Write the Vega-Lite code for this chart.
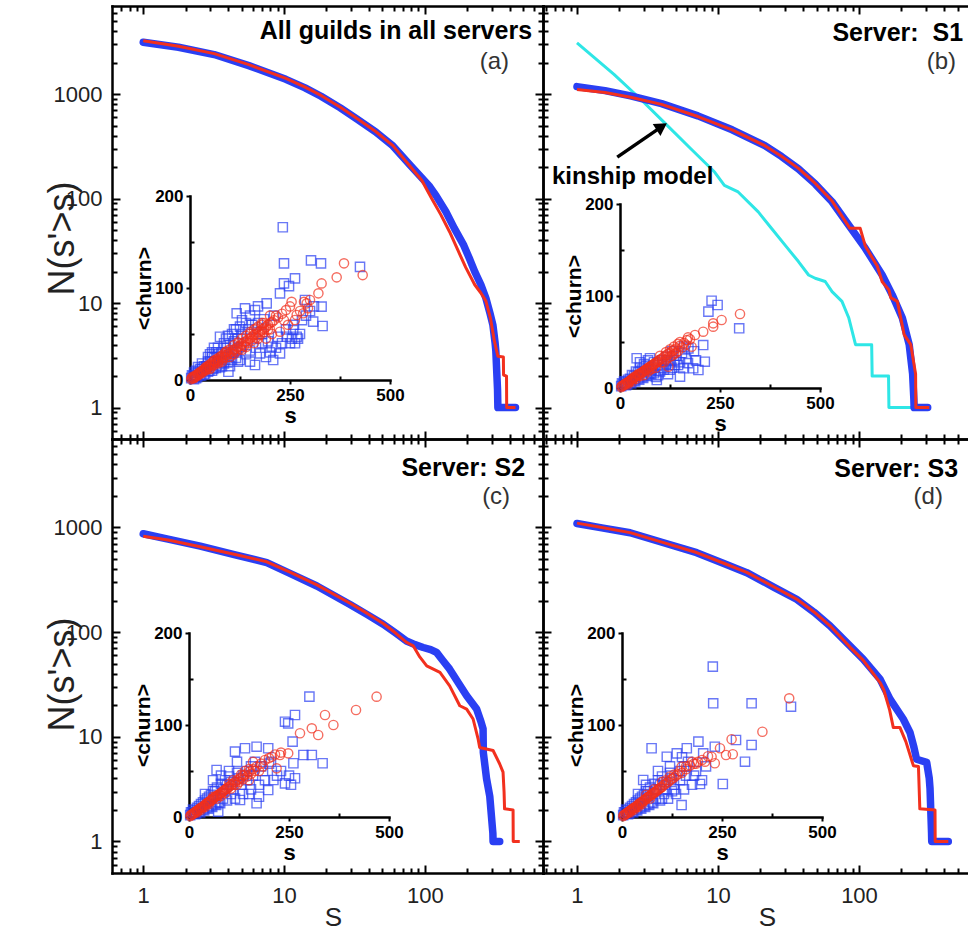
{
"$schema":"https://vega.github.io/schema/vega-lite/v6.json",
"width":856,"height":867,
"autosize":{"type":"none"},
"padding":{"left":112,"top":6,"right":0,"bottom":60},
"background":"white",
"config":{"view":{"stroke":null},"font":"Liberation Sans",
 "axis":{"grid":false,"domainColor":"black","domainWidth":2.5,"domainCap":"square","tickColor":"black","tickWidth":2,"labelOverlap":false,"labelFlush":false,"labelFont":"Liberation Sans","titleFont":"Liberation Sans"},
 "text":{"font":"Liberation Sans"}},
"datasets":{
"curves":[
{"p":"a","g":"blue","s":1,"n":3150},{"p":"a","g":"blue","s":1.78,"n":2820},{"p":"a","g":"blue","s":3.19,"n":2400},{"p":"a","g":"blue","s":5.62,"n":1880},{"p":"a","g":"blue","s":10.3,"n":1390},{"p":"a","g":"blue","s":14.1,"n":1150},{"p":"a","g":"blue","s":18.3,"n":957},{"p":"a","g":"blue","s":25.1,"n":740},{"p":"a","g":"blue","s":33,"n":578},{"p":"a","g":"blue","s":44.7,"n":437},{"p":"a","g":"blue","s":59.3,"n":320},{"p":"a","g":"blue","s":79.6,"n":206},{"p":"a","g":"blue","s":107,"n":133},{"p":"a","g":"blue","s":120,"n":107},{"p":"a","g":"blue","s":141,"n":75},{"p":"a","g":"blue","s":162,"n":52},{"p":"a","g":"blue","s":189,"n":35.7},{"p":"a","g":"blue","s":209,"n":26},{"p":"a","g":"blue","s":226,"n":20},{"p":"a","g":"blue","s":250,"n":15},{"p":"a","g":"blue","s":271,"n":11.2},{"p":"a","g":"blue","s":290,"n":8},{"p":"a","g":"blue","s":304,"n":6.2},{"p":"a","g":"blue","s":315,"n":4.2},{"p":"a","g":"blue","s":319,"n":3.5},{"p":"a","g":"blue","s":328,"n":1.5},{"p":"a","g":"blue","s":330,"n":1},{"p":"a","g":"blue","s":440,"n":1},
{"p":"a","g":"red","s":1,"n":3250},{"p":"a","g":"red","s":1.78,"n":2880},{"p":"a","g":"red","s":3.19,"n":2450},{"p":"a","g":"red","s":5.62,"n":1920},{"p":"a","g":"red","s":10.3,"n":1420},{"p":"a","g":"red","s":14.1,"n":1170},{"p":"a","g":"red","s":18.3,"n":975},{"p":"a","g":"red","s":25.1,"n":750},{"p":"a","g":"red","s":33,"n":585},{"p":"a","g":"red","s":44.7,"n":440},{"p":"a","g":"red","s":59.3,"n":322},{"p":"a","g":"red","s":79.6,"n":200},{"p":"a","g":"red","s":95,"n":150},{"p":"a","g":"red","s":112,"n":100},{"p":"a","g":"red","s":130,"n":70},{"p":"a","g":"red","s":150,"n":48},{"p":"a","g":"red","s":170,"n":33},{"p":"a","g":"red","s":195,"n":22},{"p":"a","g":"red","s":226,"n":15},{"p":"a","g":"red","s":250,"n":12.5},{"p":"a","g":"red","s":271,"n":10.5},{"p":"a","g":"red","s":292,"n":7.2},{"p":"a","g":"red","s":312,"n":4.3},{"p":"a","g":"red","s":330,"n":3.1},{"p":"a","g":"red","s":361,"n":3.05},{"p":"a","g":"red","s":362,"n":2.05},{"p":"a","g":"red","s":380,"n":2},{"p":"a","g":"red","s":381,"n":1},{"p":"a","g":"red","s":440,"n":1},
{"p":"b","g":"blue","s":1,"n":1183},{"p":"b","g":"blue","s":1.58,"n":1084},{"p":"b","g":"blue","s":2.4,"n":964},{"p":"b","g":"blue","s":3.98,"n":813},{"p":"b","g":"blue","s":7.2,"n":621},{"p":"b","g":"blue","s":12.6,"n":457},{"p":"b","g":"blue","s":21.5,"n":322},{"p":"b","g":"blue","s":28.2,"n":254},{"p":"b","g":"blue","s":37.2,"n":193},{"p":"b","g":"blue","s":49,"n":138},{"p":"b","g":"blue","s":64.4,"n":93.5},{"p":"b","g":"blue","s":84.7,"n":55.7},{"p":"b","g":"blue","s":111,"n":33.4},{"p":"b","g":"blue","s":146,"n":18.6},{"p":"b","g":"blue","s":172,"n":12},{"p":"b","g":"blue","s":203,"n":7.2},{"p":"b","g":"blue","s":227,"n":4},{"p":"b","g":"blue","s":240,"n":2.1},{"p":"b","g":"blue","s":245,"n":1.2},{"p":"b","g":"blue","s":246,"n":1},{"p":"b","g":"blue","s":307,"n":1},
{"p":"b","g":"red","s":1,"n":1110},{"p":"b","g":"red","s":1.58,"n":1040},{"p":"b","g":"red","s":2.4,"n":935},{"p":"b","g":"red","s":3.98,"n":800},{"p":"b","g":"red","s":7.2,"n":612},{"p":"b","g":"red","s":12.6,"n":455},{"p":"b","g":"red","s":21.5,"n":322},{"p":"b","g":"red","s":28.2,"n":255},{"p":"b","g":"red","s":37.2,"n":195},{"p":"b","g":"red","s":49,"n":140},{"p":"b","g":"red","s":64.4,"n":95},{"p":"b","g":"red","s":84.7,"n":54},{"p":"b","g":"red","s":86,"n":52},{"p":"b","g":"red","s":102,"n":52},{"p":"b","g":"red","s":111,"n":35},{"p":"b","g":"red","s":135,"n":22.5},{"p":"b","g":"red","s":146,"n":16},{"p":"b","g":"red","s":163,"n":13.4},{"p":"b","g":"red","s":168,"n":11.3},{"p":"b","g":"red","s":187,"n":10.4},{"p":"b","g":"red","s":209,"n":5},{"p":"b","g":"red","s":233,"n":4},{"p":"b","g":"red","s":252,"n":2.1},{"p":"b","g":"red","s":253,"n":1},{"p":"b","g":"red","s":315,"n":1},
{"p":"b","g":"cyan","s":1,"n":3100},{"p":"b","g":"cyan","s":1.83,"n":1550},{"p":"b","g":"cyan","s":2.83,"n":896},{"p":"b","g":"cyan","s":4.15,"n":538},{"p":"b","g":"cyan","s":6.44,"n":299},{"p":"b","g":"cyan","s":9.46,"n":180},{"p":"b","g":"cyan","s":11.1,"n":134},{"p":"b","g":"cyan","s":13.9,"n":116},{"p":"b","g":"cyan","s":19.3,"n":74.7},{"p":"b","g":"cyan","s":24,"n":51.8},{"p":"b","g":"cyan","s":29.9,"n":35.9},{"p":"b","g":"cyan","s":37.2,"n":25},{"p":"b","g":"cyan","s":43.9,"n":18.6},{"p":"b","g":"cyan","s":48.9,"n":17.3},{"p":"b","g":"cyan","s":57.6,"n":16.1},{"p":"b","g":"cyan","s":64.4,"n":12.9},{"p":"b","g":"cyan","s":75.7,"n":10.4},{"p":"b","g":"cyan","s":84.7,"n":7.2},{"p":"b","g":"cyan","s":94.5,"n":4},{"p":"b","g":"cyan","s":123,"n":4},{"p":"b","g":"cyan","s":124,"n":2},{"p":"b","g":"cyan","s":162,"n":2},{"p":"b","g":"cyan","s":163,"n":1},{"p":"b","g":"cyan","s":307,"n":1},
{"p":"c","g":"blue","s":1,"n":871},{"p":"c","g":"blue","s":1.5,"n":774},{"p":"c","g":"blue","s":2.54,"n":663},{"p":"c","g":"blue","s":4.5,"n":548},{"p":"c","g":"blue","s":7.54,"n":461},{"p":"c","g":"blue","s":11,"n":364},{"p":"c","g":"blue","s":17.1,"n":276},{"p":"c","g":"blue","s":29.4,"n":184},{"p":"c","g":"blue","s":39,"n":147},{"p":"c","g":"blue","s":50.6,"n":119},{"p":"c","g":"blue","s":62,"n":98},{"p":"c","g":"blue","s":74,"n":82.4},{"p":"c","g":"blue","s":85,"n":76},{"p":"c","g":"blue","s":97.3,"n":71.3},{"p":"c","g":"blue","s":110,"n":68},{"p":"c","g":"blue","s":121,"n":64},{"p":"c","g":"blue","s":135,"n":53},{"p":"c","g":"blue","s":150,"n":44.3},{"p":"c","g":"blue","s":175,"n":32},{"p":"c","g":"blue","s":198,"n":24.7},{"p":"c","g":"blue","s":233,"n":18.4},{"p":"c","g":"blue","s":250,"n":14},{"p":"c","g":"blue","s":259,"n":11.9},{"p":"c","g":"blue","s":260,"n":7.1},{"p":"c","g":"blue","s":274,"n":4},{"p":"c","g":"blue","s":289,"n":2.7},{"p":"c","g":"blue","s":304,"n":1.2},{"p":"c","g":"blue","s":305,"n":1},{"p":"c","g":"blue","s":340,"n":1},
{"p":"c","g":"red","s":1,"n":826},{"p":"c","g":"red","s":1.5,"n":760},{"p":"c","g":"red","s":2.54,"n":655},{"p":"c","g":"red","s":4.5,"n":552},{"p":"c","g":"red","s":7.54,"n":470},{"p":"c","g":"red","s":11,"n":374},{"p":"c","g":"red","s":17.1,"n":283},{"p":"c","g":"red","s":29.4,"n":189},{"p":"c","g":"red","s":39,"n":151},{"p":"c","g":"red","s":50.6,"n":121},{"p":"c","g":"red","s":62,"n":98},{"p":"c","g":"red","s":74,"n":80},{"p":"c","g":"red","s":82.6,"n":74},{"p":"c","g":"red","s":92,"n":58},{"p":"c","g":"red","s":103,"n":47.6},{"p":"c","g":"red","s":128,"n":41.2},{"p":"c","g":"red","s":150,"n":30.7},{"p":"c","g":"red","s":177,"n":19.8},{"p":"c","g":"red","s":198,"n":18.4},{"p":"c","g":"red","s":220,"n":14.8},{"p":"c","g":"red","s":239,"n":9.5},{"p":"c","g":"red","s":245,"n":7.9},{"p":"c","g":"red","s":305,"n":7.4},{"p":"c","g":"red","s":340,"n":5.5},{"p":"c","g":"red","s":359,"n":4.6},{"p":"c","g":"red","s":365,"n":3},{"p":"c","g":"red","s":368,"n":2.05},{"p":"c","g":"red","s":423,"n":2},{"p":"c","g":"red","s":424,"n":1},{"p":"c","g":"red","s":472,"n":1},
{"p":"d","g":"blue","s":1,"n":1092},{"p":"d","g":"blue","s":1.5,"n":991},{"p":"d","g":"blue","s":2.38,"n":890},{"p":"d","g":"blue","s":4,"n":722},{"p":"d","g":"blue","s":7.06,"n":574},{"p":"d","g":"blue","s":11,"n":453},{"p":"d","g":"blue","s":16,"n":370},{"p":"d","g":"blue","s":25,"n":268},{"p":"d","g":"blue","s":36.1,"n":206},{"p":"d","g":"blue","s":48,"n":155},{"p":"d","g":"blue","s":62.3,"n":115},{"p":"d","g":"blue","s":86.3,"n":73.8},{"p":"d","g":"blue","s":107,"n":55.2},{"p":"d","g":"blue","s":141,"n":35.6},{"p":"d","g":"blue","s":166,"n":22.9},{"p":"d","g":"blue","s":206,"n":14.8},{"p":"d","g":"blue","s":230,"n":11},{"p":"d","g":"blue","s":245,"n":8},{"p":"d","g":"blue","s":256,"n":6.1},{"p":"d","g":"blue","s":302,"n":5.7},{"p":"d","g":"blue","s":315,"n":4},{"p":"d","g":"blue","s":319,"n":3.2},{"p":"d","g":"blue","s":327,"n":1.2},{"p":"d","g":"blue","s":328,"n":1},{"p":"d","g":"blue","s":430,"n":1},
{"p":"d","g":"red","s":1,"n":1100},{"p":"d","g":"red","s":1.5,"n":998},{"p":"d","g":"red","s":2.38,"n":893},{"p":"d","g":"red","s":4,"n":725},{"p":"d","g":"red","s":7.06,"n":576},{"p":"d","g":"red","s":11,"n":455},{"p":"d","g":"red","s":16,"n":372},{"p":"d","g":"red","s":25,"n":270},{"p":"d","g":"red","s":36.1,"n":207},{"p":"d","g":"red","s":48,"n":156},{"p":"d","g":"red","s":62.3,"n":115},{"p":"d","g":"red","s":86.3,"n":72},{"p":"d","g":"red","s":107,"n":54},{"p":"d","g":"red","s":141,"n":33},{"p":"d","g":"red","s":150,"n":28},{"p":"d","g":"red","s":165,"n":18},{"p":"d","g":"red","s":175,"n":12.3},{"p":"d","g":"red","s":195,"n":12.3},{"p":"d","g":"red","s":215,"n":9},{"p":"d","g":"red","s":243,"n":5.3},{"p":"d","g":"red","s":264,"n":5.2},{"p":"d","g":"red","s":270,"n":2.05},{"p":"d","g":"red","s":346,"n":2},{"p":"d","g":"red","s":347,"n":1},{"p":"d","g":"red","s":430,"n":1}
],
"scatter":[
{"p":"a","g":"red","s":3,"c":1},{"p":"a","g":"red","s":6,"c":2},{"p":"a","g":"red","s":9,"c":2.5},{"p":"a","g":"red","s":12,"c":3.5},{"p":"a","g":"red","s":15,"c":4},{"p":"a","g":"red","s":18,"c":5},{"p":"a","g":"red","s":21,"c":6},{"p":"a","g":"red","s":24,"c":7},{"p":"a","g":"red","s":27,"c":8},{"p":"a","g":"red","s":30,"c":9},{"p":"a","g":"red","s":34,"c":10},{"p":"a","g":"red","s":38,"c":11.5},{"p":"a","g":"red","s":42,"c":12},{"p":"a","g":"red","s":46,"c":14},{"p":"a","g":"red","s":50,"c":15},{"p":"a","g":"red","s":55,"c":16},{"p":"a","g":"red","s":60,"c":18},{"p":"a","g":"red","s":65,"c":19},{"p":"a","g":"red","s":70,"c":21},{"p":"a","g":"red","s":75,"c":22},{"p":"a","g":"red","s":80,"c":24},{"p":"a","g":"red","s":85,"c":25},{"p":"a","g":"red","s":90,"c":27},{"p":"a","g":"red","s":95,"c":28},{"p":"a","g":"red","s":100,"c":30},{"p":"a","g":"red","s":105,"c":31},{"p":"a","g":"red","s":110,"c":33},{"p":"a","g":"red","s":115,"c":34},{"p":"a","g":"red","s":120,"c":36},{"p":"a","g":"red","s":125,"c":37},{"p":"a","g":"red","s":130,"c":39},{"p":"a","g":"red","s":135,"c":41},{"p":"a","g":"red","s":140,"c":42},{"p":"a","g":"red","s":145,"c":44},{"p":"a","g":"red","s":150,"c":45},{"p":"a","g":"red","s":155,"c":47},{"p":"a","g":"red","s":160,"c":49},{"p":"a","g":"red","s":165,"c":50},{"p":"a","g":"red","s":170,"c":52},{"p":"a","g":"red","s":175,"c":53},{"p":"a","g":"red","s":180,"c":55},{"p":"a","g":"red","s":185,"c":56},{"p":"a","g":"red","s":190,"c":58},{"p":"a","g":"red","s":195,"c":60},{"p":"a","g":"red","s":200,"c":62},{"p":"a","g":"red","s":205,"c":63},{"p":"a","g":"red","s":210,"c":65},{"p":"a","g":"red","s":220,"c":68},{"p":"a","g":"red","s":230,"c":72},{"p":"a","g":"red","s":240,"c":76},{"p":"a","g":"red","s":40,"c":14},{"p":"a","g":"red","s":60,"c":21},{"p":"a","g":"red","s":90,"c":31},{"p":"a","g":"red","s":120,"c":40},{"p":"a","g":"red","s":150,"c":50},{"p":"a","g":"red","s":180,"c":62},{"p":"a","g":"red","s":100,"c":25},{"p":"a","g":"red","s":130,"c":33},{"p":"a","g":"red","s":160,"c":40},{"p":"a","g":"red","s":190,"c":45},{"p":"a","g":"red","s":205,"c":50},{"p":"a","g":"red","s":170,"c":45},{"p":"a","g":"red","s":200,"c":55},{"p":"a","g":"red","s":225,"c":52.5},{"p":"a","g":"red","s":215,"c":70},{"p":"a","g":"red","s":235,"c":65},{"p":"a","g":"red","s":245,"c":60},{"p":"a","g":"red","s":250,"c":80},{"p":"a","g":"red","s":254,"c":85},{"p":"a","g":"red","s":262.5,"c":65.2},{"p":"a","g":"red","s":266.7,"c":70.7},{"p":"a","g":"red","s":275,"c":75},{"p":"a","g":"red","s":283,"c":72.5},{"p":"a","g":"red","s":285,"c":85},{"p":"a","g":"red","s":291.7,"c":83.3},{"p":"a","g":"red","s":295,"c":78},{"p":"a","g":"red","s":300,"c":87},{"p":"a","g":"red","s":321,"c":94.2},{"p":"a","g":"red","s":329,"c":105},{"p":"a","g":"red","s":366.7,"c":111.6},{"p":"a","g":"red","s":385,"c":126.8},{"p":"a","g":"red","s":431.7,"c":114},{"p":"a","g":"red","s":70,"c":18},{"p":"a","g":"red","s":110,"c":28},{"p":"a","g":"red","s":50,"c":12},{"p":"a","g":"red","s":80,"c":20},{"p":"a","g":"red","s":140,"c":36},{"p":"a","g":"red","s":200,"c":70},{"p":"a","g":"red","s":185,"c":62},{"p":"a","g":"red","s":165,"c":56},
{"p":"a","g":"red","s":5,"c":3},{"p":"a","g":"red","s":10,"c":4},{"p":"a","g":"red","s":14,"c":5},{"p":"a","g":"red","s":19,"c":6.5},{"p":"a","g":"red","s":23,"c":8},{"p":"a","g":"red","s":28,"c":9.5},{"p":"a","g":"red","s":33,"c":11},{"p":"a","g":"red","s":37,"c":12.5},{"p":"a","g":"red","s":44,"c":15},{"p":"a","g":"red","s":48,"c":16.5},{"p":"a","g":"red","s":53,"c":18},{"p":"a","g":"red","s":58,"c":20},{"p":"a","g":"red","s":63,"c":21.5},{"p":"a","g":"red","s":68,"c":23},{"p":"a","g":"red","s":73,"c":24.5},{"p":"a","g":"red","s":78,"c":26},{"p":"a","g":"red","s":83,"c":27.5},{"p":"a","g":"red","s":88,"c":29.5},{"p":"a","g":"red","s":93,"c":31},{"p":"a","g":"red","s":98,"c":33},{"p":"a","g":"red","s":10,"c":2},{"p":"a","g":"red","s":20,"c":5},{"p":"a","g":"red","s":30,"c":7.5},{"p":"a","g":"red","s":40,"c":10.5},{"p":"a","g":"red","s":50,"c":13},{"p":"a","g":"red","s":60,"c":16},{"p":"a","g":"red","s":70,"c":19.5},{"p":"a","g":"red","s":80,"c":22},{"p":"a","g":"red","s":90,"c":24.5},{"p":"a","g":"red","s":105,"c":28},{"p":"a","g":"red","s":115,"c":31},{"p":"a","g":"red","s":125,"c":34},{"p":"a","g":"red","s":135,"c":37},{"p":"a","g":"red","s":145,"c":40},{"p":"a","g":"red","s":155,"c":43},{"p":"a","g":"red","s":165,"c":46},{"p":"a","g":"red","s":175,"c":49},{"p":"a","g":"red","s":185,"c":52},{"p":"a","g":"red","s":195,"c":55},{"p":"a","g":"red","s":110,"c":38},{"p":"a","g":"red","s":120,"c":41},{"p":"a","g":"red","s":130,"c":45},{"p":"a","g":"red","s":140,"c":48},{"p":"a","g":"red","s":150,"c":52},{"p":"a","g":"red","s":160,"c":55},{"p":"a","g":"red","s":170,"c":58},{"p":"a","g":"red","s":180,"c":60},
{"p":"a","g":"blue","s":3,"c":2},{"p":"a","g":"blue","s":8,"c":4},{"p":"a","g":"blue","s":12,"c":6},{"p":"a","g":"blue","s":15,"c":2},{"p":"a","g":"blue","s":20,"c":8},{"p":"a","g":"blue","s":20,"c":14},{"p":"a","g":"blue","s":25,"c":5},{"p":"a","g":"blue","s":30,"c":12},{"p":"a","g":"blue","s":30,"c":18},{"p":"a","g":"blue","s":35,"c":6},{"p":"a","g":"blue","s":40,"c":15},{"p":"a","g":"blue","s":41.7,"c":14.5},{"p":"a","g":"blue","s":45,"c":9},{"p":"a","g":"blue","s":50,"c":20},{"p":"a","g":"blue","s":50,"c":28},{"p":"a","g":"blue","s":55,"c":10},{"p":"a","g":"blue","s":60,"c":24},{"p":"a","g":"blue","s":60,"c":35},{"p":"a","g":"blue","s":65,"c":13},{"p":"a","g":"blue","s":70,"c":28},{"p":"a","g":"blue","s":70,"c":35},{"p":"a","g":"blue","s":75,"c":14},{"p":"a","g":"blue","s":75,"c":47},{"p":"a","g":"blue","s":80,"c":30},{"p":"a","g":"blue","s":80,"c":15},{"p":"a","g":"blue","s":85,"c":18},{"p":"a","g":"blue","s":90,"c":35},{"p":"a","g":"blue","s":90,"c":45},{"p":"a","g":"blue","s":95,"c":20},{"p":"a","g":"blue","s":96,"c":9},{"p":"a","g":"blue","s":100,"c":38},{"p":"a","g":"blue","s":100,"c":15},{"p":"a","g":"blue","s":105,"c":22},{"p":"a","g":"blue","s":110,"c":42},{"p":"a","g":"blue","s":110,"c":55},{"p":"a","g":"blue","s":115,"c":24},{"p":"a","g":"blue","s":116.7,"c":72.5},{"p":"a","g":"blue","s":120,"c":45},{"p":"a","g":"blue","s":120,"c":20},{"p":"a","g":"blue","s":125,"c":21.7},{"p":"a","g":"blue","s":130,"c":50},{"p":"a","g":"blue","s":130,"c":65},{"p":"a","g":"blue","s":137.5,"c":77.9},{"p":"a","g":"blue","s":140,"c":28},{"p":"a","g":"blue","s":145,"c":55},{"p":"a","g":"blue","s":150,"c":32},{"p":"a","g":"blue","s":150,"c":20},{"p":"a","g":"blue","s":150,"c":70},{"p":"a","g":"blue","s":155,"c":60},{"p":"a","g":"blue","s":162.5,"c":76},{"p":"a","g":"blue","s":162.5,"c":16.3},{"p":"a","g":"blue","s":165,"c":35},{"p":"a","g":"blue","s":170,"c":62},{"p":"a","g":"blue","s":170,"c":80},{"p":"a","g":"blue","s":175,"c":29},{"p":"a","g":"blue","s":180,"c":40},{"p":"a","g":"blue","s":180,"c":50},{"p":"a","g":"blue","s":185,"c":66},{"p":"a","g":"blue","s":190,"c":25},{"p":"a","g":"blue","s":191.7,"c":83.3},{"p":"a","g":"blue","s":195,"c":42},{"p":"a","g":"blue","s":200,"c":30},{"p":"a","g":"blue","s":204,"c":36.2},{"p":"a","g":"blue","s":208,"c":21.7},{"p":"a","g":"blue","s":210,"c":70},{"p":"a","g":"blue","s":215,"c":35},{"p":"a","g":"blue","s":220,"c":47},{"p":"a","g":"blue","s":225,"c":29},{"p":"a","g":"blue","s":225,"c":94.2},{"p":"a","g":"blue","s":230,"c":40},{"p":"a","g":"blue","s":232,"c":166},{"p":"a","g":"blue","s":235,"c":126.8},{"p":"a","g":"blue","s":235,"c":105},{"p":"a","g":"blue","s":240,"c":55},{"p":"a","g":"blue","s":241.7,"c":47},{"p":"a","g":"blue","s":247.5,"c":102},{"p":"a","g":"blue","s":250,"c":40},{"p":"a","g":"blue","s":255,"c":45},{"p":"a","g":"blue","s":258,"c":54.3},{"p":"a","g":"blue","s":260,"c":60},{"p":"a","g":"blue","s":262.5,"c":110.5},{"p":"a","g":"blue","s":262.5,"c":39.9},{"p":"a","g":"blue","s":266.7,"c":47},{"p":"a","g":"blue","s":270,"c":45},{"p":"a","g":"blue","s":275,"c":50},{"p":"a","g":"blue","s":280,"c":65},{"p":"a","g":"blue","s":287.5,"c":87},{"p":"a","g":"blue","s":290,"c":70},{"p":"a","g":"blue","s":300,"c":75},{"p":"a","g":"blue","s":302.5,"c":130},{"p":"a","g":"blue","s":308,"c":63.4},{"p":"a","g":"blue","s":310,"c":80},{"p":"a","g":"blue","s":327.5,"c":126.8},{"p":"a","g":"blue","s":329,"c":79.7},{"p":"a","g":"blue","s":331.5,"c":58.7},{"p":"a","g":"blue","s":425,"c":123},
{"p":"a","g":"blue","s":5,"c":5},{"p":"a","g":"blue","s":10,"c":8},{"p":"a","g":"blue","s":15,"c":10},{"p":"a","g":"blue","s":25,"c":12},{"p":"a","g":"blue","s":35,"c":15},{"p":"a","g":"blue","s":45,"c":20},{"p":"a","g":"blue","s":55,"c":25},{"p":"a","g":"blue","s":65,"c":30},{"p":"a","g":"blue","s":10,"c":1},{"p":"a","g":"blue","s":18,"c":3},{"p":"a","g":"blue","s":28,"c":5},{"p":"a","g":"blue","s":38,"c":7},{"p":"a","g":"blue","s":48,"c":10},{"p":"a","g":"blue","s":58,"c":12},{"p":"a","g":"blue","s":68,"c":16},{"p":"a","g":"blue","s":78,"c":19},{"p":"a","g":"blue","s":88,"c":22},{"p":"a","g":"blue","s":98,"c":26},{"p":"a","g":"blue","s":108,"c":30},{"p":"a","g":"blue","s":118,"c":33},{"p":"a","g":"blue","s":128,"c":36},{"p":"a","g":"blue","s":45,"c":25},{"p":"a","g":"blue","s":55,"c":30},{"p":"a","g":"blue","s":85,"c":40},{"p":"a","g":"blue","s":95,"c":48},{"p":"a","g":"blue","s":105,"c":50},{"p":"a","g":"blue","s":115,"c":55},{"p":"a","g":"blue","s":125,"c":58},{"p":"a","g":"blue","s":140,"c":62},
{"p":"b","g":"red","s":3,"c":1},{"p":"b","g":"red","s":6,"c":2},{"p":"b","g":"red","s":9,"c":3},{"p":"b","g":"red","s":12,"c":4},{"p":"b","g":"red","s":15,"c":5},{"p":"b","g":"red","s":18,"c":5.5},{"p":"b","g":"red","s":21,"c":6.5},{"p":"b","g":"red","s":24,"c":7.5},{"p":"b","g":"red","s":27,"c":8.5},{"p":"b","g":"red","s":30,"c":9.5},{"p":"b","g":"red","s":34,"c":10.5},{"p":"b","g":"red","s":38,"c":12},{"p":"b","g":"red","s":42,"c":13},{"p":"b","g":"red","s":46,"c":14},{"p":"b","g":"red","s":50,"c":15.5},{"p":"b","g":"red","s":55,"c":17},{"p":"b","g":"red","s":60,"c":18.5},{"p":"b","g":"red","s":65,"c":20},{"p":"b","g":"red","s":70,"c":21.5},{"p":"b","g":"red","s":75,"c":23},{"p":"b","g":"red","s":80,"c":24.5},{"p":"b","g":"red","s":85,"c":26},{"p":"b","g":"red","s":90,"c":27.5},{"p":"b","g":"red","s":95,"c":29},{"p":"b","g":"red","s":100,"c":31},{"p":"b","g":"red","s":105,"c":32},{"p":"b","g":"red","s":110,"c":34},{"p":"b","g":"red","s":115,"c":35.5},{"p":"b","g":"red","s":120,"c":37},{"p":"b","g":"red","s":125,"c":38.5},{"p":"b","g":"red","s":130,"c":40},{"p":"b","g":"red","s":135,"c":41.5},{"p":"b","g":"red","s":140,"c":43},{"p":"b","g":"red","s":150,"c":46},{"p":"b","g":"red","s":160,"c":49},{"p":"b","g":"red","s":167,"c":52},{"p":"b","g":"red","s":179,"c":44.9},{"p":"b","g":"red","s":187.5,"c":57.6},{"p":"b","g":"red","s":208,"c":61.2},{"p":"b","g":"red","s":233,"c":66.7},{"p":"b","g":"red","s":233,"c":70.3},{"p":"b","g":"red","s":254,"c":73.9},{"p":"b","g":"red","s":300,"c":80.4},{"p":"b","g":"red","s":121,"c":23.2},{"p":"b","g":"red","s":60,"c":14},{"p":"b","g":"red","s":90,"c":22},{"p":"b","g":"red","s":110,"c":28},{"p":"b","g":"red","s":130,"c":35},{"p":"b","g":"red","s":100,"c":35},{"p":"b","g":"red","s":140,"c":38},{"p":"b","g":"red","s":150,"c":50},{"p":"b","g":"red","s":170,"c":55},{"p":"b","g":"red","s":175,"c":53},{"p":"b","g":"red","s":45,"c":15},{"p":"b","g":"red","s":35,"c":12},{"p":"b","g":"red","s":75,"c":20},
{"p":"b","g":"red","s":5,"c":2.5},{"p":"b","g":"red","s":10,"c":3.5},{"p":"b","g":"red","s":14,"c":4.5},{"p":"b","g":"red","s":19,"c":6},{"p":"b","g":"red","s":23,"c":7},{"p":"b","g":"red","s":28,"c":9},{"p":"b","g":"red","s":33,"c":10},{"p":"b","g":"red","s":37,"c":11.5},{"p":"b","g":"red","s":44,"c":14},{"p":"b","g":"red","s":48,"c":15},{"p":"b","g":"red","s":53,"c":16.5},{"p":"b","g":"red","s":58,"c":18},{"p":"b","g":"red","s":63,"c":19.5},{"p":"b","g":"red","s":68,"c":21},{"p":"b","g":"red","s":73,"c":22.5},{"p":"b","g":"red","s":78,"c":24},{"p":"b","g":"red","s":83,"c":25.5},{"p":"b","g":"red","s":88,"c":27},{"p":"b","g":"red","s":93,"c":28.5},{"p":"b","g":"red","s":98,"c":30},{"p":"b","g":"red","s":20,"c":4},{"p":"b","g":"red","s":30,"c":7},{"p":"b","g":"red","s":40,"c":10},{"p":"b","g":"red","s":50,"c":13},{"p":"b","g":"red","s":70,"c":18},{"p":"b","g":"red","s":80,"c":21},{"p":"b","g":"red","s":105,"c":28},{"p":"b","g":"red","s":115,"c":31},{"p":"b","g":"red","s":125,"c":34},{"p":"b","g":"red","s":135,"c":37},{"p":"b","g":"red","s":145,"c":40},{"p":"b","g":"red","s":155,"c":44},{"p":"b","g":"red","s":165,"c":47},{"p":"b","g":"red","s":115,"c":39},{"p":"b","g":"red","s":125,"c":42},{"p":"b","g":"red","s":135,"c":45},{"p":"b","g":"red","s":145,"c":48},
{"p":"b","g":"blue","s":3,"c":2},{"p":"b","g":"blue","s":8,"c":4},{"p":"b","g":"blue","s":12,"c":7},{"p":"b","g":"blue","s":15,"c":3},{"p":"b","g":"blue","s":20,"c":9},{"p":"b","g":"blue","s":25,"c":6},{"p":"b","g":"blue","s":30,"c":14},{"p":"b","g":"blue","s":35,"c":8},{"p":"b","g":"blue","s":40,"c":18},{"p":"b","g":"blue","s":41.7,"c":32.3},{"p":"b","g":"blue","s":45,"c":10},{"p":"b","g":"blue","s":50,"c":22},{"p":"b","g":"blue","s":55,"c":12},{"p":"b","g":"blue","s":60,"c":26},{"p":"b","g":"blue","s":65,"c":14},{"p":"b","g":"blue","s":70,"c":30},{"p":"b","g":"blue","s":75,"c":32.3},{"p":"b","g":"blue","s":75,"c":16},{"p":"b","g":"blue","s":80,"c":20},{"p":"b","g":"blue","s":85,"c":28},{"p":"b","g":"blue","s":90,"c":12},{"p":"b","g":"blue","s":92,"c":8.7},{"p":"b","g":"blue","s":95,"c":25},{"p":"b","g":"blue","s":100,"c":18},{"p":"b","g":"blue","s":105,"c":30},{"p":"b","g":"blue","s":110,"c":20},{"p":"b","g":"blue","s":117,"c":34},{"p":"b","g":"blue","s":120,"c":15},{"p":"b","g":"blue","s":125,"c":28},{"p":"b","g":"blue","s":130,"c":22},{"p":"b","g":"blue","s":137.5,"c":25},{"p":"b","g":"blue","s":140,"c":35},{"p":"b","g":"blue","s":150,"c":12.3},{"p":"b","g":"blue","s":150,"c":28},{"p":"b","g":"blue","s":158,"c":21.4},{"p":"b","g":"blue","s":165,"c":32},{"p":"b","g":"blue","s":171,"c":43.1},{"p":"b","g":"blue","s":183,"c":21.4},{"p":"b","g":"blue","s":190,"c":30},{"p":"b","g":"blue","s":196,"c":19.6},{"p":"b","g":"blue","s":208,"c":46.7},{"p":"b","g":"blue","s":212,"c":28.6},{"p":"b","g":"blue","s":221,"c":83},{"p":"b","g":"blue","s":229,"c":94.9},{"p":"b","g":"blue","s":244,"c":90.2},{"p":"b","g":"blue","s":298,"c":64.9},{"p":"b","g":"blue","s":185,"c":40},{"p":"b","g":"blue","s":160,"c":45},{"p":"b","g":"blue","s":130,"c":40},{"p":"b","g":"blue","s":50,"c":28},{"p":"b","g":"blue","s":60,"c":18},
{"p":"b","g":"blue","s":5,"c":5},{"p":"b","g":"blue","s":10,"c":7},{"p":"b","g":"blue","s":18,"c":4},{"p":"b","g":"blue","s":25,"c":10},{"p":"b","g":"blue","s":28,"c":5},{"p":"b","g":"blue","s":35,"c":13},{"p":"b","g":"blue","s":38,"c":7},{"p":"b","g":"blue","s":45,"c":17},{"p":"b","g":"blue","s":48,"c":9},{"p":"b","g":"blue","s":55,"c":20},{"p":"b","g":"blue","s":58,"c":11},{"p":"b","g":"blue","s":65,"c":24},{"p":"b","g":"blue","s":68,"c":13},{"p":"b","g":"blue","s":78,"c":15},{"p":"b","g":"blue","s":85,"c":16},{"p":"b","g":"blue","s":95,"c":14},{"p":"b","g":"blue","s":105,"c":22},{"p":"b","g":"blue","s":115,"c":26},{"p":"b","g":"blue","s":125,"c":20},{"p":"b","g":"blue","s":135,"c":30},{"p":"b","g":"blue","s":145,"c":25},{"p":"b","g":"blue","s":155,"c":38},{"p":"b","g":"blue","s":170,"c":27},{"p":"b","g":"blue","s":120,"c":30},
{"p":"c","g":"red","s":3,"c":1},{"p":"c","g":"red","s":6,"c":2},{"p":"c","g":"red","s":9,"c":3},{"p":"c","g":"red","s":12,"c":4},{"p":"c","g":"red","s":15,"c":5},{"p":"c","g":"red","s":18,"c":6},{"p":"c","g":"red","s":21,"c":7},{"p":"c","g":"red","s":24,"c":8},{"p":"c","g":"red","s":27,"c":9},{"p":"c","g":"red","s":30,"c":10},{"p":"c","g":"red","s":34,"c":11},{"p":"c","g":"red","s":38,"c":12.5},{"p":"c","g":"red","s":42,"c":14},{"p":"c","g":"red","s":46,"c":15},{"p":"c","g":"red","s":50,"c":16.5},{"p":"c","g":"red","s":55,"c":18},{"p":"c","g":"red","s":60,"c":20},{"p":"c","g":"red","s":65,"c":21.5},{"p":"c","g":"red","s":70,"c":23},{"p":"c","g":"red","s":75,"c":24.5},{"p":"c","g":"red","s":80,"c":26},{"p":"c","g":"red","s":85,"c":28},{"p":"c","g":"red","s":90,"c":29.5},{"p":"c","g":"red","s":95,"c":31},{"p":"c","g":"red","s":100,"c":33},{"p":"c","g":"red","s":105,"c":34.5},{"p":"c","g":"red","s":110,"c":36},{"p":"c","g":"red","s":115,"c":38},{"p":"c","g":"red","s":120,"c":40},{"p":"c","g":"red","s":125,"c":41},{"p":"c","g":"red","s":130,"c":43},{"p":"c","g":"red","s":135,"c":45},{"p":"c","g":"red","s":140,"c":46},{"p":"c","g":"red","s":150,"c":49},{"p":"c","g":"red","s":160,"c":52},{"p":"c","g":"red","s":169,"c":54.7},{"p":"c","g":"red","s":207,"c":65.5},{"p":"c","g":"red","s":219,"c":52.9},{"p":"c","g":"red","s":227.5,"c":67.4},{"p":"c","g":"red","s":248,"c":69.2},{"p":"c","g":"red","s":277.5,"c":91},{"p":"c","g":"red","s":307,"c":96.4},{"p":"c","g":"red","s":323,"c":89.1},{"p":"c","g":"red","s":340,"c":110.9},{"p":"c","g":"red","s":361,"c":100},{"p":"c","g":"red","s":417.5,"c":116.3},{"p":"c","g":"red","s":469,"c":130.8},{"p":"c","g":"red","s":180,"c":58},{"p":"c","g":"red","s":190,"c":62},{"p":"c","g":"red","s":200,"c":64},{"p":"c","g":"red","s":215,"c":68},{"p":"c","g":"red","s":230,"c":70},{"p":"c","g":"red","s":175,"c":50},{"p":"c","g":"red","s":150,"c":40},{"p":"c","g":"red","s":120,"c":35},{"p":"c","g":"red","s":90,"c":26},{"p":"c","g":"red","s":60,"c":22},{"p":"c","g":"red","s":100,"c":36},{"p":"c","g":"red","s":140,"c":50},{"p":"c","g":"red","s":160,"c":60},{"p":"c","g":"red","s":185,"c":55},
{"p":"c","g":"red","s":5,"c":2.5},{"p":"c","g":"red","s":10,"c":3.5},{"p":"c","g":"red","s":14,"c":5},{"p":"c","g":"red","s":19,"c":6.5},{"p":"c","g":"red","s":23,"c":7.5},{"p":"c","g":"red","s":28,"c":9.5},{"p":"c","g":"red","s":33,"c":10.5},{"p":"c","g":"red","s":37,"c":12},{"p":"c","g":"red","s":44,"c":14.5},{"p":"c","g":"red","s":48,"c":16},{"p":"c","g":"red","s":53,"c":17.5},{"p":"c","g":"red","s":58,"c":19},{"p":"c","g":"red","s":63,"c":21},{"p":"c","g":"red","s":68,"c":22.5},{"p":"c","g":"red","s":73,"c":24},{"p":"c","g":"red","s":78,"c":25.5},{"p":"c","g":"red","s":83,"c":27},{"p":"c","g":"red","s":88,"c":29},{"p":"c","g":"red","s":93,"c":30.5},{"p":"c","g":"red","s":98,"c":32},{"p":"c","g":"red","s":20,"c":5},{"p":"c","g":"red","s":30,"c":8},{"p":"c","g":"red","s":40,"c":11},{"p":"c","g":"red","s":50,"c":14},{"p":"c","g":"red","s":70,"c":20},{"p":"c","g":"red","s":80,"c":23},{"p":"c","g":"red","s":105,"c":31},{"p":"c","g":"red","s":115,"c":35},{"p":"c","g":"red","s":125,"c":38},{"p":"c","g":"red","s":135,"c":41},{"p":"c","g":"red","s":145,"c":44},{"p":"c","g":"red","s":155,"c":47},{"p":"c","g":"red","s":165,"c":50},{"p":"c","g":"red","s":110,"c":40},{"p":"c","g":"red","s":130,"c":46},{"p":"c","g":"red","s":150,"c":52},
{"p":"c","g":"blue","s":3,"c":2},{"p":"c","g":"blue","s":8,"c":5},{"p":"c","g":"blue","s":12,"c":7},{"p":"c","g":"blue","s":15,"c":3},{"p":"c","g":"blue","s":20,"c":10},{"p":"c","g":"blue","s":25,"c":6},{"p":"c","g":"blue","s":30,"c":14},{"p":"c","g":"blue","s":35,"c":8},{"p":"c","g":"blue","s":40,"c":18},{"p":"c","g":"blue","s":45,"c":10},{"p":"c","g":"blue","s":50,"c":22},{"p":"c","g":"blue","s":55,"c":12},{"p":"c","g":"blue","s":60,"c":28},{"p":"c","g":"blue","s":65,"c":14},{"p":"c","g":"blue","s":69,"c":51.1},{"p":"c","g":"blue","s":70,"c":32},{"p":"c","g":"blue","s":73,"c":5.8},{"p":"c","g":"blue","s":75,"c":16},{"p":"c","g":"blue","s":80,"c":36},{"p":"c","g":"blue","s":85,"c":20},{"p":"c","g":"blue","s":90,"c":40},{"p":"c","g":"blue","s":95,"c":18},{"p":"c","g":"blue","s":100,"c":44},{"p":"c","g":"blue","s":105,"c":25},{"p":"c","g":"blue","s":110,"c":30},{"p":"c","g":"blue","s":115,"c":71},{"p":"c","g":"blue","s":120,"c":48},{"p":"c","g":"blue","s":127.5,"c":18.5},{"p":"c","g":"blue","s":130,"c":35},{"p":"c","g":"blue","s":140,"c":74.7},{"p":"c","g":"blue","s":145,"c":40},{"p":"c","g":"blue","s":150,"c":25},{"p":"c","g":"blue","s":155,"c":55},{"p":"c","g":"blue","s":160,"c":45},{"p":"c","g":"blue","s":169,"c":76.4},{"p":"c","g":"blue","s":169,"c":14.9},{"p":"c","g":"blue","s":175,"c":35},{"p":"c","g":"blue","s":185,"c":50},{"p":"c","g":"blue","s":198,"c":74.7},{"p":"c","g":"blue","s":198,"c":29.3},{"p":"c","g":"blue","s":205,"c":60},{"p":"c","g":"blue","s":211,"c":40.2},{"p":"c","g":"blue","s":220,"c":45},{"p":"c","g":"blue","s":240,"c":36.6},{"p":"c","g":"blue","s":240,"c":103.6},{"p":"c","g":"blue","s":248,"c":101.8},{"p":"c","g":"blue","s":259,"c":81.9},{"p":"c","g":"blue","s":261,"c":58.4},{"p":"c","g":"blue","s":265,"c":110.9},{"p":"c","g":"blue","s":265,"c":42.1},{"p":"c","g":"blue","s":286,"c":67.4},{"p":"c","g":"blue","s":301,"c":130.8},{"p":"c","g":"blue","s":307,"c":67.4},{"p":"c","g":"blue","s":334,"c":58.4},{"p":"c","g":"blue","s":230,"c":50},{"p":"c","g":"blue","s":250,"c":45},{"p":"c","g":"blue","s":255,"c":35},{"p":"c","g":"blue","s":120,"c":60},{"p":"c","g":"blue","s":100,"c":50},{"p":"c","g":"blue","s":80,"c":45},{"p":"c","g":"blue","s":60,"c":40},{"p":"c","g":"blue","s":40,"c":25},{"p":"c","g":"blue","s":135,"c":45},{"p":"c","g":"blue","s":180,"c":55},
{"p":"c","g":"blue","s":5,"c":5},{"p":"c","g":"blue","s":10,"c":8},{"p":"c","g":"blue","s":18,"c":4},{"p":"c","g":"blue","s":25,"c":12},{"p":"c","g":"blue","s":28,"c":5},{"p":"c","g":"blue","s":35,"c":16},{"p":"c","g":"blue","s":38,"c":7},{"p":"c","g":"blue","s":45,"c":20},{"p":"c","g":"blue","s":48,"c":9},{"p":"c","g":"blue","s":55,"c":24},{"p":"c","g":"blue","s":58,"c":11},{"p":"c","g":"blue","s":65,"c":28},{"p":"c","g":"blue","s":68,"c":13},{"p":"c","g":"blue","s":78,"c":15},{"p":"c","g":"blue","s":85,"c":30},{"p":"c","g":"blue","s":95,"c":35},{"p":"c","g":"blue","s":105,"c":38},{"p":"c","g":"blue","s":115,"c":20},{"p":"c","g":"blue","s":125,"c":42},{"p":"c","g":"blue","s":135,"c":25},{"p":"c","g":"blue","s":145,"c":50},{"p":"c","g":"blue","s":155,"c":30},{"p":"c","g":"blue","s":165,"c":60},{"p":"c","g":"blue","s":175,"c":22},{"p":"c","g":"blue","s":190,"c":40},{"p":"c","g":"blue","s":200,"c":58},
{"p":"d","g":"red","s":3,"c":1},{"p":"d","g":"red","s":6,"c":2},{"p":"d","g":"red","s":9,"c":3},{"p":"d","g":"red","s":12,"c":4},{"p":"d","g":"red","s":15,"c":5},{"p":"d","g":"red","s":18,"c":6},{"p":"d","g":"red","s":21,"c":7},{"p":"d","g":"red","s":24,"c":8},{"p":"d","g":"red","s":27,"c":9},{"p":"d","g":"red","s":30,"c":10},{"p":"d","g":"red","s":34,"c":11},{"p":"d","g":"red","s":38,"c":12.5},{"p":"d","g":"red","s":42,"c":14},{"p":"d","g":"red","s":46,"c":15},{"p":"d","g":"red","s":50,"c":16.5},{"p":"d","g":"red","s":55,"c":18},{"p":"d","g":"red","s":60,"c":20},{"p":"d","g":"red","s":65,"c":21.5},{"p":"d","g":"red","s":70,"c":23},{"p":"d","g":"red","s":75,"c":25},{"p":"d","g":"red","s":80,"c":26.5},{"p":"d","g":"red","s":85,"c":28},{"p":"d","g":"red","s":90,"c":30},{"p":"d","g":"red","s":95,"c":31.5},{"p":"d","g":"red","s":100,"c":33},{"p":"d","g":"red","s":105,"c":35},{"p":"d","g":"red","s":110,"c":36.5},{"p":"d","g":"red","s":115,"c":38},{"p":"d","g":"red","s":120,"c":40},{"p":"d","g":"red","s":125,"c":41.5},{"p":"d","g":"red","s":130,"c":43},{"p":"d","g":"red","s":135,"c":45},{"p":"d","g":"red","s":140,"c":46.5},{"p":"d","g":"red","s":149,"c":54.7},{"p":"d","g":"red","s":160,"c":52},{"p":"d","g":"red","s":170,"c":56},{"p":"d","g":"red","s":180,"c":58},{"p":"d","g":"red","s":190,"c":60},{"p":"d","g":"red","s":207.5,"c":60.1},{"p":"d","g":"red","s":224,"c":65.5},{"p":"d","g":"red","s":232,"c":58.4},{"p":"d","g":"red","s":245,"c":74.7},{"p":"d","g":"red","s":260,"c":67.4},{"p":"d","g":"red","s":274,"c":84.5},{"p":"d","g":"red","s":277,"c":68.2},{"p":"d","g":"red","s":351,"c":92.7},{"p":"d","g":"red","s":418,"c":129},{"p":"d","g":"red","s":80,"c":30},{"p":"d","g":"red","s":100,"c":38},{"p":"d","g":"red","s":120,"c":44},{"p":"d","g":"red","s":60,"c":24},{"p":"d","g":"red","s":150,"c":48},{"p":"d","g":"red","s":200,"c":62},{"p":"d","g":"red","s":215,"c":66},
{"p":"d","g":"red","s":5,"c":2.5},{"p":"d","g":"red","s":10,"c":3.5},{"p":"d","g":"red","s":14,"c":5},{"p":"d","g":"red","s":19,"c":6.5},{"p":"d","g":"red","s":23,"c":7.5},{"p":"d","g":"red","s":28,"c":9.5},{"p":"d","g":"red","s":33,"c":10.5},{"p":"d","g":"red","s":37,"c":12},{"p":"d","g":"red","s":44,"c":14.5},{"p":"d","g":"red","s":48,"c":16},{"p":"d","g":"red","s":53,"c":17.5},{"p":"d","g":"red","s":58,"c":19},{"p":"d","g":"red","s":63,"c":21},{"p":"d","g":"red","s":68,"c":22.5},{"p":"d","g":"red","s":73,"c":24},{"p":"d","g":"red","s":78,"c":25.5},{"p":"d","g":"red","s":83,"c":27},{"p":"d","g":"red","s":88,"c":29},{"p":"d","g":"red","s":93,"c":30.5},{"p":"d","g":"red","s":98,"c":32},{"p":"d","g":"red","s":20,"c":5},{"p":"d","g":"red","s":30,"c":8},{"p":"d","g":"red","s":40,"c":11},{"p":"d","g":"red","s":50,"c":14},{"p":"d","g":"red","s":70,"c":20},{"p":"d","g":"red","s":110,"c":40},{"p":"d","g":"red","s":130,"c":46},{"p":"d","g":"red","s":145,"c":50},{"p":"d","g":"red","s":160,"c":55},{"p":"d","g":"red","s":175,"c":60},{"p":"d","g":"red","s":185,"c":58},
{"p":"d","g":"blue","s":3,"c":2},{"p":"d","g":"blue","s":8,"c":5},{"p":"d","g":"blue","s":12,"c":7},{"p":"d","g":"blue","s":15,"c":3},{"p":"d","g":"blue","s":20,"c":10},{"p":"d","g":"blue","s":25,"c":6},{"p":"d","g":"blue","s":30,"c":14},{"p":"d","g":"blue","s":35,"c":8},{"p":"d","g":"blue","s":40,"c":18},{"p":"d","g":"blue","s":45,"c":10},{"p":"d","g":"blue","s":50,"c":22},{"p":"d","g":"blue","s":53,"c":40.2},{"p":"d","g":"blue","s":55,"c":12},{"p":"d","g":"blue","s":60,"c":28},{"p":"d","g":"blue","s":65,"c":14},{"p":"d","g":"blue","s":70,"c":32},{"p":"d","g":"blue","s":74,"c":74.7},{"p":"d","g":"blue","s":75,"c":16},{"p":"d","g":"blue","s":80,"c":36},{"p":"d","g":"blue","s":85,"c":20},{"p":"d","g":"blue","s":90,"c":40},{"p":"d","g":"blue","s":95,"c":18},{"p":"d","g":"blue","s":100,"c":44},{"p":"d","g":"blue","s":105,"c":25},{"p":"d","g":"blue","s":110,"c":30},{"p":"d","g":"blue","s":112,"c":65.5},{"p":"d","g":"blue","s":120,"c":48},{"p":"d","g":"blue","s":125,"c":28},{"p":"d","g":"blue","s":130,"c":35},{"p":"d","g":"blue","s":137,"c":69.2},{"p":"d","g":"blue","s":145,"c":40},{"p":"d","g":"blue","s":149,"c":13},{"p":"d","g":"blue","s":155,"c":55},{"p":"d","g":"blue","s":160,"c":45},{"p":"d","g":"blue","s":162,"c":74.7},{"p":"d","g":"blue","s":175,"c":35},{"p":"d","g":"blue","s":185,"c":50},{"p":"d","g":"blue","s":191,"c":81.9},{"p":"d","g":"blue","s":195,"c":35.9},{"p":"d","g":"blue","s":203,"c":69.2},{"p":"d","g":"blue","s":210,"c":55},{"p":"d","g":"blue","s":227,"c":163.4},{"p":"d","g":"blue","s":228,"c":123.6},{"p":"d","g":"blue","s":232,"c":76.4},{"p":"d","g":"blue","s":252,"c":35.9},{"p":"d","g":"blue","s":285,"c":83.7},{"p":"d","g":"blue","s":307.5,"c":60.1},{"p":"d","g":"blue","s":324,"c":123.6},{"p":"d","g":"blue","s":324,"c":78.3},{"p":"d","g":"blue","s":422.5,"c":119.9},{"p":"d","g":"blue","s":100,"c":20},{"p":"d","g":"blue","s":130,"c":30},{"p":"d","g":"blue","s":60,"c":35},{"p":"d","g":"blue","s":40,"c":25},{"p":"d","g":"blue","s":90,"c":50},
{"p":"d","g":"blue","s":5,"c":5},{"p":"d","g":"blue","s":10,"c":8},{"p":"d","g":"blue","s":18,"c":4},{"p":"d","g":"blue","s":25,"c":12},{"p":"d","g":"blue","s":28,"c":5},{"p":"d","g":"blue","s":35,"c":16},{"p":"d","g":"blue","s":38,"c":7},{"p":"d","g":"blue","s":45,"c":20},{"p":"d","g":"blue","s":48,"c":9},{"p":"d","g":"blue","s":55,"c":24},{"p":"d","g":"blue","s":58,"c":11},{"p":"d","g":"blue","s":65,"c":28},{"p":"d","g":"blue","s":68,"c":13},{"p":"d","g":"blue","s":78,"c":15},{"p":"d","g":"blue","s":85,"c":30},{"p":"d","g":"blue","s":95,"c":35},{"p":"d","g":"blue","s":105,"c":38},{"p":"d","g":"blue","s":115,"c":20},{"p":"d","g":"blue","s":125,"c":42},{"p":"d","g":"blue","s":135,"c":25},{"p":"d","g":"blue","s":145,"c":50},{"p":"d","g":"blue","s":155,"c":30},{"p":"d","g":"blue","s":165,"c":60},{"p":"d","g":"blue","s":180,"c":45},{"p":"d","g":"blue","s":200,"c":40},{"p":"d","g":"blue","s":150,"c":65},{"p":"d","g":"blue","s":120,"c":55}
],
"notes":[
{"p":"a","k":"title","t":"All guilds in all servers","s":577,"n":3370},
{"p":"a","k":"tag","t":"(a)","s":396,"n":1760},
{"p":"b","k":"title","t":"Server:\u00a0\u00a0S1","s":547,"n":3270},
{"p":"b","k":"tag","t":"(b)","s":488,"n":1760},
{"p":"b","k":"kin","t":"kinship model","s":0.665,"n":139},
{"p":"c","k":"title","t":"Server: S2","s":515,"n":3130},
{"p":"c","k":"tag","t":"(c)","s":403,"n":1672},
{"p":"d","k":"title","t":"Server: S3","s":504,"n":3060},
{"p":"d","k":"tag","t":"(d)","s":394,"n":1672}
],
"arrow":[{"s":1.93,"n":250},{"s":3.99,"n":490}],
"head":[{"s":3.99,"n":490}]
},
"layer":[
{"layer":[
 {"data":{"name":"curves"},"transform":[{"filter":"datum.p=='a' && datum.g=='blue'"}],
  "mark":{"type":"line","color":"#2a3ff3","strokeWidth":7.5,"strokeCap":"round","strokeJoin":"round"},
  "encoding":{
   "x":{"field":"s","type":"quantitative","scale":{"type":"log","domain":[0.6,690],"range":[0,431],"nice":false},
    "axis":{"orient":"bottom","offset":-434,"values":[0.7,0.8,0.9,1,2,3,4,5,6,7,8,9,10,20,30,40,50,60,70,80,90,100,200,300,400,500,600],"labels":false,"title":null,
     "tickSize":{"condition":{"test":"datum.value==1||datum.value==10||datum.value==100||datum.value==1000","value":-8},"value":-5}}},
   "y":{"field":"n","type":"quantitative","scale":{"type":"log","domain":[0.5,7000],"range":[433,0],"nice":false},
    "axis":{"orient":"left","offset":0,"values":[0.6,0.7,0.8,0.9,1,2,3,4,5,6,7,8,9,10,20,30,40,50,60,70,80,90,100,200,300,400,500,600,700,800,900,1000,2000,3000,4000,5000,6000],
     "format":"d","labelExpr":"(datum.value==1||datum.value==10||datum.value==100||datum.value==1000) ? datum.label : ''",
     "labelFontSize":22,"labelColor":"#222","labelPadding":18,
     "tickSize":{"condition":{"test":"datum.value==1||datum.value==10||datum.value==100||datum.value==1000","value":-8},"value":-5},
     "title":"N(s'>s)","titleFontSize":36,"titleFontWeight":"normal","titleColor":"#222","titleX":-50,"titleY":232,"titleBaseline":"middle","titleAlign":"center","titleAngle":270}}}},
 {"data":{"name":"curves"},"transform":[{"filter":"datum.p=='a' && datum.g=='red'"}],
  "mark":{"type":"line","color":"#f2301e","strokeWidth":3,"strokeJoin":"round"},
  "encoding":{
   "x":{"field":"s","type":"quantitative","scale":{"type":"log","domain":[0.6,690],"range":[0,431],"nice":false},
    "axis":{"orient":"top","offset":0,"values":[0.7,0.8,0.9,1,2,3,4,5,6,7,8,9,10,20,30,40,50,60,70,80,90,100,200,300,400,500,600],"labels":false,"title":null,
     "tickSize":{"condition":{"test":"datum.value==1||datum.value==10||datum.value==100||datum.value==1000","value":-8},"value":-5}}},
   "y":{"field":"n","type":"quantitative","scale":{"type":"log","domain":[0.5,7000],"range":[433,0],"nice":false},
    "axis":{"orient":"right","offset":-425,"values":[0.6,0.7,0.8,0.9,1,2,3,4,5,6,7,8,9,10,20,30,40,50,60,70,80,90,100,200,300,400,500,600,700,800,900,1000,2000,3000,4000,5000,6000],"labels":false,"title":null,
     "tickSize":{"condition":{"test":"datum.value==1||datum.value==10||datum.value==100||datum.value==1000","value":-8},"value":-5}}}}},
 {"data":{"name":"notes"},"transform":[{"filter":"datum.p=='a' && datum.k=='title'"}],
  "mark":{"type":"text","align":"right","baseline":"alphabetic","fontSize":25,"fontWeight":"bold","color":"black"},
  "encoding":{"x":{"field":"s","type":"quantitative","scale":{"type":"log","domain":[0.6,690],"range":[0,431],"nice":false},"axis":null},
   "y":{"field":"n","type":"quantitative","scale":{"type":"log","domain":[0.5,7000],"range":[433,0],"nice":false},"axis":null},"text":{"field":"t"}}},
 {"data":{"name":"notes"},"transform":[{"filter":"datum.p=='a' && datum.k=='tag'"}],
  "mark":{"type":"text","align":"right","baseline":"alphabetic","fontSize":24,"color":"#333"},
  "encoding":{"x":{"field":"s","type":"quantitative","scale":{"type":"log","domain":[0.6,690],"range":[0,431],"nice":false},"axis":null},
   "y":{"field":"n","type":"quantitative","scale":{"type":"log","domain":[0.5,7000],"range":[433,0],"nice":false},"axis":null},"text":{"field":"t"}}}
 ],
 "resolve":{"axis":{"x":"independent","y":"independent"}}},
{"layer":[
 {"data":{"name":"curves"},"transform":[{"filter":"datum.p=='b' && datum.g=='cyan'"}],
  "mark":{"type":"line","color":"#2ee6e6","strokeWidth":3,"strokeJoin":"round"},
  "encoding":{"x":{"field":"s","type":"quantitative","scale":{"type":"log","domain":[0.574,593],"range":[431,856],"nice":false},"axis":null},
   "y":{"field":"n","type":"quantitative","scale":{"type":"log","domain":[0.5,7000],"range":[433,0],"nice":false},"axis":null}}},
 {"data":{"name":"curves"},"transform":[{"filter":"datum.p=='b' && datum.g=='blue'"}],
  "mark":{"type":"line","color":"#2a3ff3","strokeWidth":7.5,"strokeCap":"round","strokeJoin":"round"},
  "encoding":{
   "x":{"field":"s","type":"quantitative","scale":{"type":"log","domain":[0.574,593],"range":[431,856],"nice":false},
    "axis":{"orient":"bottom","offset":-434,"values":[0.6,0.7,0.8,0.9,1,2,3,4,5,6,7,8,9,10,20,30,40,50,60,70,80,90,100,200,300,400,500],"labels":false,"title":null,
     "tickSize":{"condition":{"test":"datum.value==1||datum.value==10||datum.value==100||datum.value==1000","value":-8},"value":-5}}},
   "y":{"field":"n","type":"quantitative","scale":{"type":"log","domain":[0.5,7000],"range":[433,0],"nice":false},
    "axis":{"orient":"left","offset":-431,"values":[0.6,0.7,0.8,0.9,1,2,3,4,5,6,7,8,9,10,20,30,40,50,60,70,80,90,100,200,300,400,500,600,700,800,900,1000,2000,3000,4000,5000,6000],"labels":false,"title":null,
     "tickSize":{"condition":{"test":"datum.value==1||datum.value==10||datum.value==100||datum.value==1000","value":-8},"value":-5}}}}},
 {"data":{"name":"curves"},"transform":[{"filter":"datum.p=='b' && datum.g=='red'"}],
  "mark":{"type":"line","color":"#f2301e","strokeWidth":3,"strokeJoin":"round"},
  "encoding":{
   "x":{"field":"s","type":"quantitative","scale":{"type":"log","domain":[0.574,593],"range":[431,856],"nice":false},
    "axis":{"orient":"top","offset":0,"values":[0.6,0.7,0.8,0.9,1,2,3,4,5,6,7,8,9,10,20,30,40,50,60,70,80,90,100,200,300,400,500],"labels":false,"title":null,
     "tickSize":{"condition":{"test":"datum.value==1||datum.value==10||datum.value==100||datum.value==1000","value":-8},"value":-5}}},
   "y":{"field":"n","type":"quantitative","scale":{"type":"log","domain":[0.5,7000],"range":[433,0],"nice":false},"axis":null}}},
 {"data":{"name":"arrow"},"mark":{"type":"line","color":"black","strokeWidth":3.5},
  "encoding":{"x":{"field":"s","type":"quantitative","scale":{"type":"log","domain":[0.574,593],"range":[431,856],"nice":false},"axis":null},
   "y":{"field":"n","type":"quantitative","scale":{"type":"log","domain":[0.5,7000],"range":[433,0],"nice":false},"axis":null}}},
 {"data":{"name":"head"},"mark":{"type":"point","shape":"triangle-up","angle":57,"filled":true,"color":"black","size":200,"opacity":1},
  "encoding":{"x":{"field":"s","type":"quantitative","scale":{"type":"log","domain":[0.574,593],"range":[431,856],"nice":false},"axis":null},
   "y":{"field":"n","type":"quantitative","scale":{"type":"log","domain":[0.5,7000],"range":[433,0],"nice":false},"axis":null}}},
 {"data":{"name":"notes"},"transform":[{"filter":"datum.p=='b' && datum.k=='title'"}],
  "mark":{"type":"text","align":"right","baseline":"alphabetic","fontSize":25,"fontWeight":"bold","color":"black"},
  "encoding":{"x":{"field":"s","type":"quantitative","scale":{"type":"log","domain":[0.574,593],"range":[431,856],"nice":false},"axis":null},
   "y":{"field":"n","type":"quantitative","scale":{"type":"log","domain":[0.5,7000],"range":[433,0],"nice":false},"axis":null},"text":{"field":"t"}}},
 {"data":{"name":"notes"},"transform":[{"filter":"datum.p=='b' && datum.k=='tag'"}],
  "mark":{"type":"text","align":"right","baseline":"alphabetic","fontSize":24,"color":"#333"},
  "encoding":{"x":{"field":"s","type":"quantitative","scale":{"type":"log","domain":[0.574,593],"range":[431,856],"nice":false},"axis":null},
   "y":{"field":"n","type":"quantitative","scale":{"type":"log","domain":[0.5,7000],"range":[433,0],"nice":false},"axis":null},"text":{"field":"t"}}},
 {"data":{"name":"notes"},"transform":[{"filter":"datum.k=='kin'"}],
  "mark":{"type":"text","align":"left","baseline":"alphabetic","fontSize":24,"fontWeight":"bold","color":"black"},
  "encoding":{"x":{"field":"s","type":"quantitative","scale":{"type":"log","domain":[0.574,593],"range":[431,856],"nice":false},"axis":null},
   "y":{"field":"n","type":"quantitative","scale":{"type":"log","domain":[0.5,7000],"range":[433,0],"nice":false},"axis":null},"text":{"field":"t"}}}
 ],
 "resolve":{"axis":{"x":"independent","y":"independent"}}},
{"layer":[
 {"data":{"name":"curves"},"transform":[{"filter":"datum.p=='c' && datum.g=='blue'"}],
  "mark":{"type":"line","color":"#2a3ff3","strokeWidth":7.5,"strokeCap":"round","strokeJoin":"round"},
  "encoding":{
   "x":{"field":"s","type":"quantitative","scale":{"type":"log","domain":[0.6,690],"range":[0,431],"nice":false},
    "axis":{"orient":"bottom","offset":0,"values":[0.7,0.8,0.9,1,2,3,4,5,6,7,8,9,10,20,30,40,50,60,70,80,90,100,200,300,400,500,600],
     "format":"d","labelExpr":"(datum.value==1||datum.value==10||datum.value==100||datum.value==1000) ? datum.label : ''",
     "labelFontSize":22,"labelColor":"#222","labelPadding":20,
     "tickSize":{"condition":{"test":"datum.value==1||datum.value==10||datum.value==100||datum.value==1000","value":-8},"value":-5},
     "title":"S","titleFontSize":26,"titleFontWeight":"normal","titleColor":"#222","titleX":221,"titleY":52,"titleBaseline":"alphabetic","titleAlign":"center"}},
   "y":{"field":"n","type":"quantitative","scale":{"type":"log","domain":[0.5,7000],"range":[867,433],"nice":false},
    "axis":{"orient":"left","offset":0,"values":[0.6,0.7,0.8,0.9,1,2,3,4,5,6,7,8,9,10,20,30,40,50,60,70,80,90,100,200,300,400,500,600,700,800,900,1000,2000,3000,4000,5000,6000],
     "format":"d","labelExpr":"(datum.value==1||datum.value==10||datum.value==100||datum.value==1000) ? datum.label : ''",
     "labelFontSize":22,"labelColor":"#222","labelPadding":18,
     "tickSize":{"condition":{"test":"datum.value==1||datum.value==10||datum.value==100||datum.value==1000","value":-8},"value":-5},
     "title":"N(s'>s)","titleFontSize":36,"titleFontWeight":"normal","titleColor":"#222","titleX":-50,"titleY":668,"titleBaseline":"middle","titleAlign":"center","titleAngle":270}}}},
 {"data":{"name":"curves"},"transform":[{"filter":"datum.p=='c' && datum.g=='red'"}],
  "mark":{"type":"line","color":"#f2301e","strokeWidth":3,"strokeJoin":"round"},
  "encoding":{
   "x":{"field":"s","type":"quantitative","scale":{"type":"log","domain":[0.6,690],"range":[0,431],"nice":false},
    "axis":{"orient":"top","offset":-433,"values":[0.7,0.8,0.9,1,2,3,4,5,6,7,8,9,10,20,30,40,50,60,70,80,90,100,200,300,400,500,600],"labels":false,"title":null,
     "tickSize":{"condition":{"test":"datum.value==1||datum.value==10||datum.value==100||datum.value==1000","value":-8},"value":-5}}},
   "y":{"field":"n","type":"quantitative","scale":{"type":"log","domain":[0.5,7000],"range":[867,433],"nice":false},
    "axis":{"orient":"right","offset":-425,"values":[0.6,0.7,0.8,0.9,1,2,3,4,5,6,7,8,9,10,20,30,40,50,60,70,80,90,100,200,300,400,500,600,700,800,900,1000,2000,3000,4000,5000,6000],"labels":false,"title":null,
     "tickSize":{"condition":{"test":"datum.value==1||datum.value==10||datum.value==100||datum.value==1000","value":-8},"value":-5}}}}},
 {"data":{"name":"notes"},"transform":[{"filter":"datum.p=='c' && datum.k=='title'"}],
  "mark":{"type":"text","align":"right","baseline":"alphabetic","fontSize":25,"fontWeight":"bold","color":"black"},
  "encoding":{"x":{"field":"s","type":"quantitative","scale":{"type":"log","domain":[0.6,690],"range":[0,431],"nice":false},"axis":null},
   "y":{"field":"n","type":"quantitative","scale":{"type":"log","domain":[0.5,7000],"range":[867,433],"nice":false},"axis":null},"text":{"field":"t"}}},
 {"data":{"name":"notes"},"transform":[{"filter":"datum.p=='c' && datum.k=='tag'"}],
  "mark":{"type":"text","align":"right","baseline":"alphabetic","fontSize":24,"color":"#333"},
  "encoding":{"x":{"field":"s","type":"quantitative","scale":{"type":"log","domain":[0.6,690],"range":[0,431],"nice":false},"axis":null},
   "y":{"field":"n","type":"quantitative","scale":{"type":"log","domain":[0.5,7000],"range":[867,433],"nice":false},"axis":null},"text":{"field":"t"}}}
 ],
 "resolve":{"axis":{"x":"independent","y":"independent"}}},
{"layer":[
 {"data":{"name":"curves"},"transform":[{"filter":"datum.p=='d' && datum.g=='blue'"}],
  "mark":{"type":"line","color":"#2a3ff3","strokeWidth":7.5,"strokeCap":"round","strokeJoin":"round"},
  "encoding":{
   "x":{"field":"s","type":"quantitative","scale":{"type":"log","domain":[0.574,593],"range":[431,856],"nice":false},
    "axis":{"orient":"bottom","offset":0,"values":[0.6,0.7,0.8,0.9,1,2,3,4,5,6,7,8,9,10,20,30,40,50,60,70,80,90,100,200,300,400,500],
     "format":"d","labelExpr":"(datum.value==1||datum.value==10||datum.value==100||datum.value==1000) ? datum.label : ''",
     "labelFontSize":22,"labelColor":"#222","labelPadding":20,
     "tickSize":{"condition":{"test":"datum.value==1||datum.value==10||datum.value==100||datum.value==1000","value":-8},"value":-5},
     "title":"S","titleFontSize":26,"titleFontWeight":"normal","titleColor":"#222","titleX":655,"titleY":52,"titleBaseline":"alphabetic","titleAlign":"center"}},
   "y":{"field":"n","type":"quantitative","scale":{"type":"log","domain":[0.5,7000],"range":[867,433],"nice":false},
    "axis":{"orient":"left","offset":-431,"values":[0.6,0.7,0.8,0.9,1,2,3,4,5,6,7,8,9,10,20,30,40,50,60,70,80,90,100,200,300,400,500,600,700,800,900,1000,2000,3000,4000,5000,6000],"labels":false,"title":null,
     "tickSize":{"condition":{"test":"datum.value==1||datum.value==10||datum.value==100||datum.value==1000","value":-8},"value":-5}}}}},
 {"data":{"name":"curves"},"transform":[{"filter":"datum.p=='d' && datum.g=='red'"}],
  "mark":{"type":"line","color":"#f2301e","strokeWidth":3,"strokeJoin":"round"},
  "encoding":{
   "x":{"field":"s","type":"quantitative","scale":{"type":"log","domain":[0.574,593],"range":[431,856],"nice":false},
    "axis":{"orient":"top","offset":-433,"values":[0.6,0.7,0.8,0.9,1,2,3,4,5,6,7,8,9,10,20,30,40,50,60,70,80,90,100,200,300,400,500],"labels":false,"title":null,
     "tickSize":{"condition":{"test":"datum.value==1||datum.value==10||datum.value==100||datum.value==1000","value":-8},"value":-5}}},
   "y":{"field":"n","type":"quantitative","scale":{"type":"log","domain":[0.5,7000],"range":[867,433],"nice":false},"axis":null}}},
 {"data":{"name":"notes"},"transform":[{"filter":"datum.p=='d' && datum.k=='title'"}],
  "mark":{"type":"text","align":"right","baseline":"alphabetic","fontSize":25,"fontWeight":"bold","color":"black"},
  "encoding":{"x":{"field":"s","type":"quantitative","scale":{"type":"log","domain":[0.574,593],"range":[431,856],"nice":false},"axis":null},
   "y":{"field":"n","type":"quantitative","scale":{"type":"log","domain":[0.5,7000],"range":[867,433],"nice":false},"axis":null},"text":{"field":"t"}}},
 {"data":{"name":"notes"},"transform":[{"filter":"datum.p=='d' && datum.k=='tag'"}],
  "mark":{"type":"text","align":"right","baseline":"alphabetic","fontSize":24,"color":"#333"},
  "encoding":{"x":{"field":"s","type":"quantitative","scale":{"type":"log","domain":[0.574,593],"range":[431,856],"nice":false},"axis":null},
   "y":{"field":"n","type":"quantitative","scale":{"type":"log","domain":[0.5,7000],"range":[867,433],"nice":false},"axis":null},"text":{"field":"t"}}}
 ],
 "resolve":{"axis":{"x":"independent","y":"independent"}}},
{"layer":[
 {"data":{"name":"scatter"},"transform":[{"filter":"datum.p=='a' && datum.g=='blue'"}],
  "mark":{"type":"point","shape":"square","filled":false,"color":"#2a3ff3","size":85,"strokeWidth":1.4},
  "encoding":{
   "x":{"field":"s","type":"quantitative","scale":{"domain":[0,500],"range":[78,278],"nice":false,"zero":false},
    "axis":{"orient":"bottom","offset":-493,"values":[0,125,250,375,500],"labelExpr":"(datum.value==0||datum.value==250||datum.value==500) ? datum.label : ''",
     "tickSize":{"condition":{"test":"datum.value==0||datum.value==250||datum.value==500","value":4},"value":-4},
     "labelPadding":3,"labelFontSize":17,"labelFontWeight":"bold","labelColor":"black",
     "title":"s","titleFontSize":22,"titleFontWeight":"bold","titleColor":"black","titleY":42,"titleBaseline":"alphabetic"}},
   "y":{"field":"c","type":"quantitative","scale":{"domain":[0,200],"range":[374,190],"nice":false,"zero":false},
    "axis":{"orient":"left","offset":-78,"values":[0,50,100,150,200],"labelExpr":"(datum.value==0||datum.value==100||datum.value==200) ? datum.label : ''",
     "tickSize":{"condition":{"test":"datum.value==0||datum.value==100||datum.value==200","value":4},"value":-4},
     "labelPadding":3,"labelFontSize":17,"labelFontWeight":"bold","labelColor":"black",
     "title":"<churn>","titleFontSize":21,"titleFontWeight":"bold","titleColor":"black","titleX":-46,"titleBaseline":"middle","titleAngle":270}}}},
 {"data":{"name":"scatter"},"transform":[{"filter":"datum.p=='a' && datum.g=='red'"}],
  "mark":{"type":"point","shape":"circle","filled":false,"color":"#f2301e","size":85,"strokeWidth":1.4},
  "encoding":{
   "x":{"field":"s","type":"quantitative","scale":{"domain":[0,500],"range":[78,278],"nice":false,"zero":false},"axis":null},
   "y":{"field":"c","type":"quantitative","scale":{"domain":[0,200],"range":[374,190],"nice":false,"zero":false},"axis":null}}}
 ],
 "resolve":{"axis":{"x":"independent","y":"independent"}}},
{"layer":[
 {"data":{"name":"scatter"},"transform":[{"filter":"datum.p=='b' && datum.g=='blue'"}],
  "mark":{"type":"point","shape":"square","filled":false,"color":"#2a3ff3","size":85,"strokeWidth":1.4},
  "encoding":{
   "x":{"field":"s","type":"quantitative","scale":{"domain":[0,500],"range":[508,708],"nice":false,"zero":false},
    "axis":{"orient":"bottom","offset":-485,"values":[0,125,250,375,500],"labelExpr":"(datum.value==0||datum.value==250||datum.value==500) ? datum.label : ''",
     "tickSize":{"condition":{"test":"datum.value==0||datum.value==250||datum.value==500","value":4},"value":-4},
     "labelPadding":3,"labelFontSize":17,"labelFontWeight":"bold","labelColor":"black",
     "title":"s","titleFontSize":22,"titleFontWeight":"bold","titleColor":"black","titleY":42,"titleBaseline":"alphabetic"}},
   "y":{"field":"c","type":"quantitative","scale":{"domain":[0,200],"range":[382,198],"nice":false,"zero":false},
    "axis":{"orient":"left","offset":-508,"values":[0,50,100,150,200],"labelExpr":"(datum.value==0||datum.value==100||datum.value==200) ? datum.label : ''",
     "tickSize":{"condition":{"test":"datum.value==0||datum.value==100||datum.value==200","value":4},"value":-4},
     "labelPadding":3,"labelFontSize":17,"labelFontWeight":"bold","labelColor":"black",
     "title":"<churn>","titleFontSize":21,"titleFontWeight":"bold","titleColor":"black","titleX":-46,"titleBaseline":"middle","titleAngle":270}}}},
 {"data":{"name":"scatter"},"transform":[{"filter":"datum.p=='b' && datum.g=='red'"}],
  "mark":{"type":"point","shape":"circle","filled":false,"color":"#f2301e","size":85,"strokeWidth":1.4},
  "encoding":{
   "x":{"field":"s","type":"quantitative","scale":{"domain":[0,500],"range":[508,708],"nice":false,"zero":false},"axis":null},
   "y":{"field":"c","type":"quantitative","scale":{"domain":[0,200],"range":[382,198],"nice":false,"zero":false},"axis":null}}}
 ],
 "resolve":{"axis":{"x":"independent","y":"independent"}}},
{"layer":[
 {"data":{"name":"scatter"},"transform":[{"filter":"datum.p=='c' && datum.g=='blue'"}],
  "mark":{"type":"point","shape":"square","filled":false,"color":"#2a3ff3","size":85,"strokeWidth":1.4},
  "encoding":{
   "x":{"field":"s","type":"quantitative","scale":{"domain":[0,500],"range":[77,277],"nice":false,"zero":false},
    "axis":{"orient":"bottom","offset":-56,"values":[0,125,250,375,500],"labelExpr":"(datum.value==0||datum.value==250||datum.value==500) ? datum.label : ''",
     "tickSize":{"condition":{"test":"datum.value==0||datum.value==250||datum.value==500","value":4},"value":-4},
     "labelPadding":3,"labelFontSize":17,"labelFontWeight":"bold","labelColor":"black",
     "title":"s","titleFontSize":22,"titleFontWeight":"bold","titleColor":"black","titleY":42,"titleBaseline":"alphabetic"}},
   "y":{"field":"c","type":"quantitative","scale":{"domain":[0,200],"range":[811,627],"nice":false,"zero":false},
    "axis":{"orient":"left","offset":-77,"values":[0,50,100,150,200],"labelExpr":"(datum.value==0||datum.value==100||datum.value==200) ? datum.label : ''",
     "tickSize":{"condition":{"test":"datum.value==0||datum.value==100||datum.value==200","value":4},"value":-4},
     "labelPadding":3,"labelFontSize":17,"labelFontWeight":"bold","labelColor":"black",
     "title":"<churn>","titleFontSize":21,"titleFontWeight":"bold","titleColor":"black","titleX":-46,"titleBaseline":"middle","titleAngle":270}}}},
 {"data":{"name":"scatter"},"transform":[{"filter":"datum.p=='c' && datum.g=='red'"}],
  "mark":{"type":"point","shape":"circle","filled":false,"color":"#f2301e","size":85,"strokeWidth":1.4},
  "encoding":{
   "x":{"field":"s","type":"quantitative","scale":{"domain":[0,500],"range":[77,277],"nice":false,"zero":false},"axis":null},
   "y":{"field":"c","type":"quantitative","scale":{"domain":[0,200],"range":[811,627],"nice":false,"zero":false},"axis":null}}}
 ],
 "resolve":{"axis":{"x":"independent","y":"independent"}}},
{"layer":[
 {"data":{"name":"scatter"},"transform":[{"filter":"datum.p=='d' && datum.g=='blue'"}],
  "mark":{"type":"point","shape":"square","filled":false,"color":"#2a3ff3","size":85,"strokeWidth":1.4},
  "encoding":{
   "x":{"field":"s","type":"quantitative","scale":{"domain":[0,500],"range":[510,710],"nice":false,"zero":false},
    "axis":{"orient":"bottom","offset":-56,"values":[0,125,250,375,500],"labelExpr":"(datum.value==0||datum.value==250||datum.value==500) ? datum.label : ''",
     "tickSize":{"condition":{"test":"datum.value==0||datum.value==250||datum.value==500","value":4},"value":-4},
     "labelPadding":3,"labelFontSize":17,"labelFontWeight":"bold","labelColor":"black",
     "title":"s","titleFontSize":22,"titleFontWeight":"bold","titleColor":"black","titleY":42,"titleBaseline":"alphabetic"}},
   "y":{"field":"c","type":"quantitative","scale":{"domain":[0,200],"range":[811,627],"nice":false,"zero":false},
    "axis":{"orient":"left","offset":-510,"values":[0,50,100,150,200],"labelExpr":"(datum.value==0||datum.value==100||datum.value==200) ? datum.label : ''",
     "tickSize":{"condition":{"test":"datum.value==0||datum.value==100||datum.value==200","value":4},"value":-4},
     "labelPadding":3,"labelFontSize":17,"labelFontWeight":"bold","labelColor":"black",
     "title":"<churn>","titleFontSize":21,"titleFontWeight":"bold","titleColor":"black","titleX":-46,"titleBaseline":"middle","titleAngle":270}}}},
 {"data":{"name":"scatter"},"transform":[{"filter":"datum.p=='d' && datum.g=='red'"}],
  "mark":{"type":"point","shape":"circle","filled":false,"color":"#f2301e","size":85,"strokeWidth":1.4},
  "encoding":{
   "x":{"field":"s","type":"quantitative","scale":{"domain":[0,500],"range":[510,710],"nice":false,"zero":false},"axis":null},
   "y":{"field":"c","type":"quantitative","scale":{"domain":[0,200],"range":[811,627],"nice":false,"zero":false},"axis":null}}}
 ],
 "resolve":{"axis":{"x":"independent","y":"independent"}}}
],
"resolve":{"scale":{"x":"independent","y":"independent"},"axis":{"x":"independent","y":"independent"}}
}
